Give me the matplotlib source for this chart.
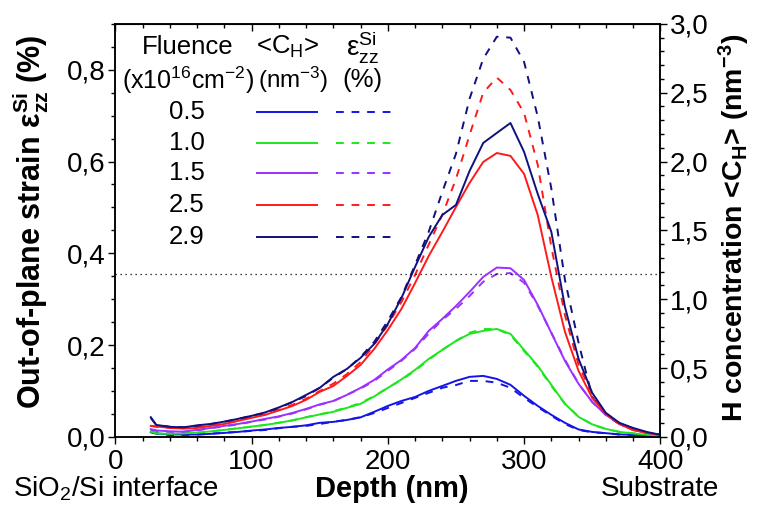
import matplotlib
matplotlib.use("Agg")
import matplotlib.pyplot as plt
from matplotlib.ticker import MultipleLocator, FuncFormatter

plt.rcParams['font.family'] = ['Liberation Sans', 'DejaVu Sans']
plt.rcParams['mathtext.fontset'] = 'custom'
plt.rcParams['mathtext.rm'] = 'Liberation Sans'
plt.rcParams['mathtext.it'] = 'Liberation Sans:italic'
plt.rcParams['mathtext.bf'] = 'Liberation Sans:bold'

# ── data ────────────────────────────────────────────────────────────────────
depth = [26, 30, 40, 50, 60, 70, 80, 90, 100, 110, 120, 130, 140, 150, 160,
         170, 180, 190, 200, 210, 220, 230, 240, 250, 260, 270, 280, 290, 300,
         310, 320, 330, 340, 350, 360, 370, 380, 390, 400]

fluences = ["0.5", "1.0", "1.5", "2.5", "2.9"]
colors = ["#1414e6", "#1ee61e", "#9b30ff", "#ff1a1a", "#10107e"]

# H concentration <C_H> (nm^-3), right axis
ch_05 = [0.036, 0.025, 0.018, 0.017, 0.017, 0.022, 0.029, 0.036, 0.046, 0.054,
         0.065, 0.073, 0.084, 0.102, 0.109, 0.123, 0.142, 0.182, 0.225, 0.261,
         0.290, 0.334, 0.370, 0.407, 0.436, 0.443, 0.421, 0.378, 0.298, 0.225,
         0.160, 0.102, 0.054, 0.036, 0.027, 0.018, 0.015, 0.011, 0.007]
ch_10 = [0.038, 0.025, 0.022, 0.025, 0.031, 0.040, 0.051, 0.062, 0.075, 0.087,
         0.102, 0.120, 0.142, 0.163, 0.182, 0.211, 0.240, 0.294, 0.356, 0.418,
         0.487, 0.566, 0.632, 0.697, 0.748, 0.770, 0.784, 0.748, 0.632, 0.516,
         0.378, 0.240, 0.145, 0.091, 0.058, 0.036, 0.025, 0.015, 0.007]
ch_15 = [0.056, 0.047, 0.040, 0.038, 0.051, 0.065, 0.080, 0.094, 0.111, 0.131,
         0.149, 0.174, 0.203, 0.236, 0.261, 0.305, 0.356, 0.414, 0.490, 0.559,
         0.646, 0.770, 0.857, 0.951, 1.053, 1.162, 1.230, 1.225, 1.140, 0.959,
         0.755, 0.552, 0.385, 0.254, 0.160, 0.094, 0.051, 0.029, 0.015]
ch_25 = [0.080, 0.076, 0.065, 0.060, 0.065, 0.080, 0.094, 0.116, 0.138, 0.160,
         0.192, 0.225, 0.269, 0.327, 0.370, 0.443, 0.523, 0.639, 0.777, 0.930,
         1.118, 1.314, 1.489, 1.670, 1.845, 1.997, 2.062, 2.041, 1.910, 1.612,
         1.162, 0.763, 0.479, 0.283, 0.167, 0.094, 0.051, 0.029, 0.015]
ch_29 = [0.143, 0.087, 0.073, 0.069, 0.084, 0.094, 0.111, 0.131, 0.153, 0.178,
         0.214, 0.254, 0.305, 0.356, 0.436, 0.494, 0.574, 0.675, 0.821, 1.009,
         1.235, 1.452, 1.612, 1.685, 1.932, 2.135, 2.208, 2.280, 2.070, 1.765,
         1.489, 0.944, 0.566, 0.320, 0.174, 0.102, 0.065, 0.036, 0.015]

# out-of-plane strain eps_zz (%), left axis
ezz_05 = [0.010, 0.007, 0.004, 0.004, 0.005, 0.007, 0.009, 0.011, 0.013, 0.015,
          0.019, 0.022, 0.024, 0.028, 0.033, 0.037, 0.043, 0.052, 0.063, 0.074,
          0.085, 0.096, 0.107, 0.113, 0.122, 0.122, 0.118, 0.107, 0.085, 0.065,
          0.046, 0.028, 0.015, 0.010, 0.008, 0.005, 0.004, 0.003, 0.002]
ezz_10 = [0.011, 0.008, 0.007, 0.008, 0.009, 0.012, 0.015, 0.019, 0.022, 0.026,
          0.031, 0.036, 0.043, 0.049, 0.056, 0.064, 0.074, 0.089, 0.107, 0.124,
          0.144, 0.168, 0.190, 0.209, 0.227, 0.235, 0.235, 0.222, 0.187, 0.153,
          0.111, 0.072, 0.044, 0.027, 0.017, 0.011, 0.008, 0.004, 0.002]
ezz_15 = [0.015, 0.013, 0.011, 0.011, 0.014, 0.019, 0.023, 0.027, 0.033, 0.038,
          0.044, 0.051, 0.060, 0.070, 0.078, 0.092, 0.105, 0.122, 0.144, 0.166,
          0.192, 0.225, 0.255, 0.279, 0.307, 0.338, 0.355, 0.357, 0.336, 0.286,
          0.227, 0.168, 0.116, 0.076, 0.048, 0.028, 0.015, 0.009, 0.004]
ezz_25 = [0.024, 0.022, 0.020, 0.019, 0.021, 0.024, 0.029, 0.035, 0.043, 0.049,
          0.059, 0.070, 0.083, 0.100, 0.116, 0.137, 0.163, 0.201, 0.244, 0.294,
          0.353, 0.419, 0.484, 0.562, 0.658, 0.750, 0.783, 0.756, 0.706, 0.593,
          0.414, 0.265, 0.157, 0.092, 0.052, 0.028, 0.015, 0.009, 0.004]
ezz_29 = [0.041, 0.026, 0.022, 0.021, 0.024, 0.028, 0.033, 0.039, 0.046, 0.052,
          0.063, 0.076, 0.089, 0.107, 0.129, 0.148, 0.174, 0.207, 0.253, 0.305,
          0.375, 0.447, 0.534, 0.617, 0.737, 0.824, 0.872, 0.870, 0.817, 0.698,
          0.541, 0.342, 0.205, 0.087, 0.048, 0.028, 0.017, 0.009, 0.004]

ch_series = [ch_05, ch_10, ch_15, ch_25, ch_29]
ezz_series = [ezz_05, ezz_10, ezz_15, ezz_25, ezz_29]

threshold = 0.355   # dotted horizontal line, strain (%)

# ── figure ──────────────────────────────────────────────────────────────────
fig = plt.figure(figsize=(7.59, 5.08), dpi=100)
ax = fig.add_axes([0.152, 0.140, 0.718, 0.813])
ax2 = ax.twinx()

comma = FuncFormatter(lambda v, _: f"{v:.1f}".replace(".", ","))

for c, e, col in zip(ch_series, ezz_series, colors):
    ax.plot(depth, e, color=col, lw=1.4, dashes=(4, 4))
    ax2.plot(depth, c, color=col, lw=1.4)

ax.axhline(threshold, color="black", lw=0.9, linestyle=(0, (1, 3)))

ax.set_xlim(0, 400)
ax.set_ylim(0, 0.9)
ax2.set_ylim(0, 3.0)

ax.xaxis.set_major_locator(MultipleLocator(100))
ax.xaxis.set_minor_locator(MultipleLocator(20))
ax.yaxis.set_major_locator(MultipleLocator(0.2))
ax.yaxis.set_minor_locator(MultipleLocator(0.05))
ax.yaxis.set_major_formatter(comma)
ax2.yaxis.set_major_locator(MultipleLocator(0.5))
ax2.yaxis.set_minor_locator(MultipleLocator(0.1))
ax2.yaxis.set_major_formatter(comma)

for a in (ax, ax2):
    a.tick_params(which="major", length=5, width=1, direction="out", labelsize=20, pad=2)
    a.tick_params(which="minor", length=3, width=1, direction="out")
    for s in a.spines.values():
        s.set_linewidth(1.1)
ax.tick_params(axis="x", which="major", pad=4)

top = ax.secondary_xaxis("top")
top.xaxis.set_major_locator(MultipleLocator(100))
top.xaxis.set_minor_locator(MultipleLocator(20))
top.tick_params(which="major", direction="in", length=5, width=1, labeltop=False)
top.tick_params(which="minor", direction="in", length=3, width=1)

ax.set_xlabel("Depth (nm)", fontsize=21, fontweight="bold")
ax.xaxis.set_label_coords(0.507, -0.126)
ax.xaxis.label.set_va("center")

ax.set_ylabel(r"Out-of-plane strain $\mathbf{ε^{Si}_{zz}}$ (%)",
              fontsize=22, fontweight="bold")
ax.yaxis.set_label_coords(-0.156, 0.52)
ax.yaxis.label.set_va("center")

ax2.set_ylabel(r"H concentration <C$_\mathbf{H}$> (nm$^\mathbf{-3}$)",
               fontsize=20.5, fontweight="bold")
ax2.yaxis.set_label_coords(1.136, 0.506)
ax2.yaxis.label.set_va("center")

tr = ax.transAxes
ax.text(0.0, -0.126, r"SiO$_2$/Si interface", transform=tr, fontsize=20,
        ha="center", va="center")
ax.text(1.0, -0.126, "Substrate", transform=tr, fontsize=20,
        ha="center", va="center")

# ── hand-built legend table ────────────────────────────────────────────────
ax.text(0.133, 0.944, "Fluence", transform=tr, fontsize=18.5, ha="center", va="center")
ax.text(0.133, 0.864, r"(x10$^{16}$cm$^{-2}$)", transform=tr, fontsize=18,
        ha="center", va="center")
ax.text(0.317, 0.944, r"<C$_\mathregular{H}$>", transform=tr, fontsize=18.5,
        ha="center", va="center")
ax.text(0.327, 0.864, r"(nm$^{-3}$)", transform=tr, fontsize=17.5,
        ha="center", va="center")
ax.text(0.454, 0.944, r"$\mathregular{ε^{Si}_{zz}}$", transform=tr, fontsize=20,
        ha="center", va="center")
ax.text(0.454, 0.864, "(%)", transform=tr, fontsize=18.5, ha="center", va="center")

row_y = [0.787, 0.712, 0.639, 0.562, 0.484]
for f, col, y in zip(fluences, colors, row_y):
    ax.text(0.131, y, f, transform=tr, fontsize=18.5, ha="center", va="center")
    ax.plot([0.260, 0.370], [y, y], transform=tr, color=col, lw=1.4)
    ax.plot([0.405, 0.515], [y, y], transform=tr, color=col, lw=1.4, dashes=(4, 4))

fig.savefig("out.png", dpi=100)
